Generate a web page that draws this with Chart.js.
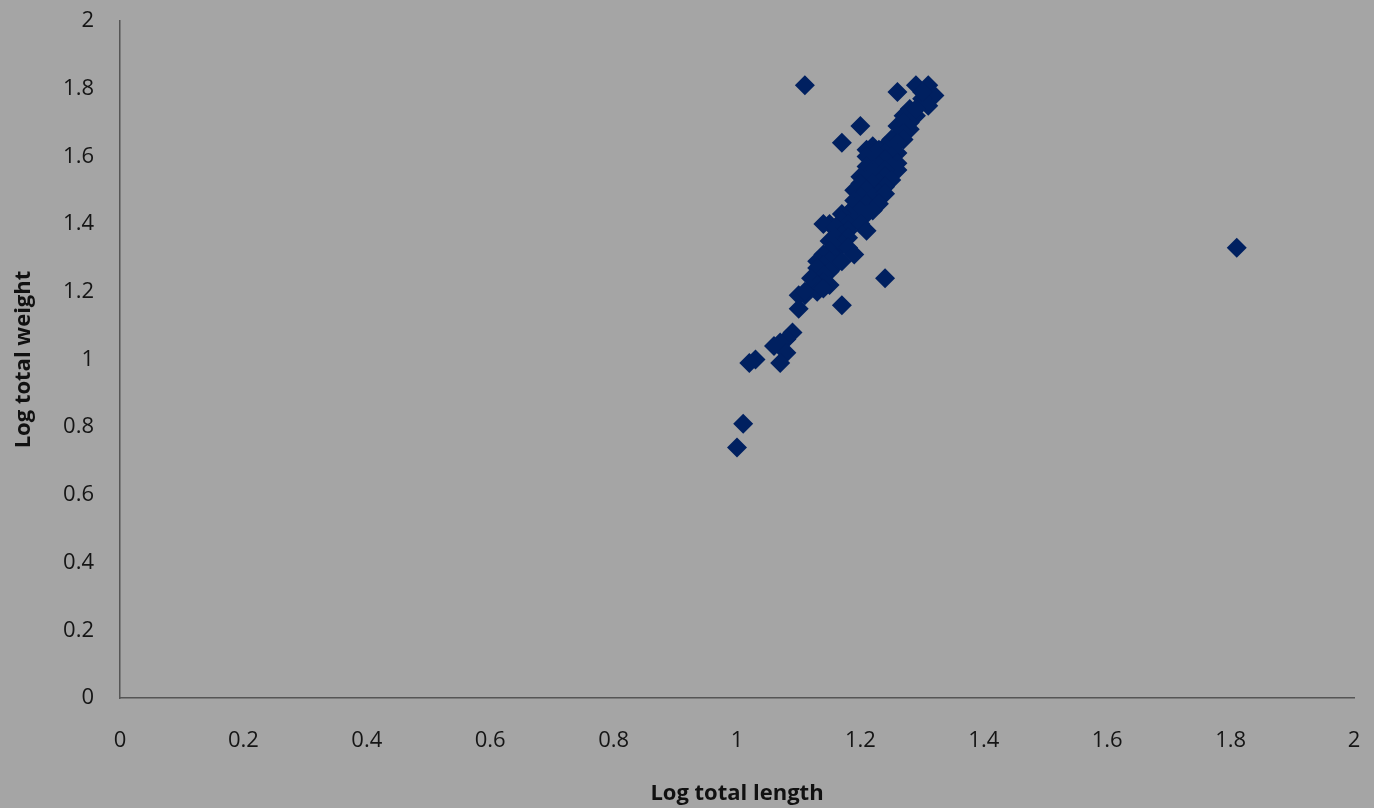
<!DOCTYPE html>
<html>
<head>
<meta charset="utf-8">
<script src="https://cdn.jsdelivr.net/npm/chart.js@4/dist/chart.umd.min.js"></script>
<style>
  html, body { margin: 0; padding: 0; background: #a5a5a5; }
  #plot { display: block; }
</style>
</head>
<body>
<canvas id="plot" width="1374" height="808"></canvas>
<script>
// log total length (x) and log total weight (y)
const logLength = [
  1.29, 1.31, 1.32, 1.30, 1.31, 1.30, 1.26,
  1.11, 1.20, 1.17, 1.24, 1.17, 1.81, 1.00, 1.01,
  1.28, 1.29, 1.27, 1.28, 1.27, 1.26, 1.28, 1.27, 1.29,
  1.26, 1.25, 1.27, 1.26, 1.24, 1.25, 1.22, 1.21,
  1.22, 1.23, 1.24, 1.26, 1.23, 1.25, 1.21,
  1.22, 1.24, 1.26, 1.21, 1.23, 1.25, 1.22, 1.26, 1.24,
  1.20, 1.22, 1.24, 1.21, 1.23, 1.25, 1.22, 1.20, 1.24,
  1.19, 1.21, 1.23, 1.20, 1.22, 1.24, 1.19, 1.21, 1.23,
  1.19, 1.20, 1.22, 1.18, 1.21, 1.17,
  1.17, 1.19, 1.15, 1.18, 1.14, 1.20, 1.16, 1.21, 1.18, 1.17,
  1.16, 1.18, 1.15, 1.17, 1.16, 1.18, 1.19,
  1.15, 1.14, 1.16, 1.13, 1.15, 1.14, 1.16, 1.17,
  1.13, 1.15, 1.14, 1.12, 1.14, 1.13, 1.15,
  1.12, 1.13, 1.11, 1.14,
  1.10, 1.10, 1.11, 1.09, 1.08, 1.07, 1.06, 1.08, 1.07, 1.03, 1.02
];
const logWeight = [
  1.81, 1.81, 1.78, 1.77, 1.75, 1.79, 1.79,
  1.81, 1.69, 1.64, 1.24, 1.16, 1.33, 0.74, 0.81,
  1.74, 1.72, 1.72, 1.70, 1.70, 1.69, 1.68, 1.67, 1.74,
  1.66, 1.65, 1.65, 1.64, 1.63, 1.62, 1.63, 1.62,
  1.61, 1.62, 1.61, 1.61, 1.60, 1.60, 1.60,
  1.59, 1.59, 1.58, 1.57, 1.57, 1.57, 1.56, 1.56, 1.56,
  1.54, 1.55, 1.54, 1.53, 1.52, 1.53, 1.52, 1.52, 1.51,
  1.50, 1.50, 1.49, 1.48, 1.48, 1.49, 1.47, 1.46, 1.46,
  1.45, 1.44, 1.44, 1.43, 1.43, 1.43,
  1.41, 1.41, 1.40, 1.40, 1.40, 1.40, 1.39, 1.38, 1.38, 1.37,
  1.36, 1.36, 1.35, 1.34, 1.33, 1.33, 1.31,
  1.32, 1.31, 1.30, 1.29, 1.29, 1.28, 1.28, 1.29,
  1.27, 1.26, 1.25, 1.24, 1.23, 1.22, 1.22,
  1.21, 1.20, 1.19, 1.21,
  1.19, 1.15, 1.20, 1.08, 1.06, 1.05, 1.04, 1.02, 0.99, 1.00, 0.99
];

const axisMin = 0;
const axisMax = 2;
const axisStep = 0.2;

const points = logLength.map((x, i) => ({ x: x, y: logWeight[i] }));

const bgPlugin = {
  id: "bg",
  beforeDraw(chart) {
    const c = chart.ctx;
    c.save();
    c.fillStyle = "#a5a5a5";
    c.fillRect(0, 0, chart.width, chart.height);
    c.restore();
  }
};

new Chart(document.getElementById("plot"), {
  type: "scatter",
  data: {
    datasets: [{
      data: points,
      pointStyle: "rectRot",
      pointRadius: 10,
      pointHoverRadius: 10,
      backgroundColor: "#002060",
      borderColor: "#002060",
      borderWidth: 0
    }]
  },
  options: {
    responsive: false,
    animation: false,
    layout: { padding: { left: 0, top: 21, right: 20, bottom: 0 } },
    plugins: { legend: { display: false }, tooltip: { enabled: false } },
    scales: {
      x: {
        type: "linear",
        min: axisMin,
        max: axisMax,
        afterFit(scale) {
          scale.height = 110;
          scale.paddingLeft = 0;
          scale.paddingRight = 0;
        },
        grid: { display: false, drawTicks: false },
        border: { display: true, color: "#555555", width: 1.5 },
        ticks: {
          stepSize: axisStep,
          padding: 30,
          color: "#151515",
          font: { family: "Open Sans", size: 22 },
          callback: v => +v.toFixed(1)
        },
        title: {
          display: true,
          text: "Log total length",
          color: "#111111",
          padding: { top: 0, bottom: 1 },
          font: { family: "Open Sans", size: 22, weight: "bold" }
        }
      },
      y: {
        type: "linear",
        min: axisMin,
        max: axisMax,
        afterFit(scale) {
          scale.width = 120;
          scale.paddingTop = 0;
          scale.paddingBottom = 0;
        },
        grid: { display: false, drawTicks: false },
        border: { display: true, color: "#555555", width: 1.5 },
        ticks: {
          stepSize: axisStep,
          padding: 26,
          color: "#151515",
          font: { family: "Open Sans", size: 22 },
          callback: v => +v.toFixed(1)
        },
        title: {
          display: true,
          text: "Log total weight",
          color: "#111111",
          padding: { top: 11, bottom: 0 },
          font: { family: "Open Sans", size: 22, weight: "bold" }
        }
      }
    }
  },
  plugins: [bgPlugin]
});
</script>
</body>
</html>
